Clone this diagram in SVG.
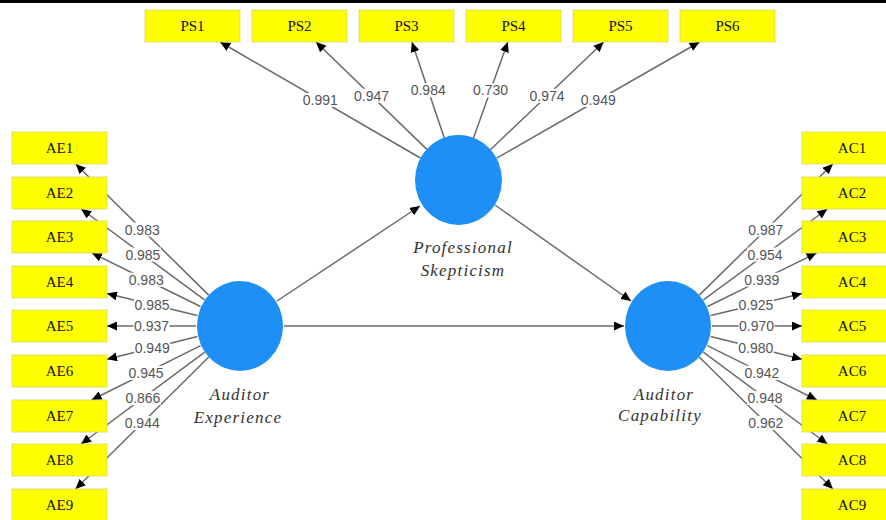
<svg xmlns="http://www.w3.org/2000/svg" width="886" height="520" viewBox="0 0 886 520">
<defs>
<marker id="arr" markerUnits="userSpaceOnUse" markerWidth="11" markerHeight="9" refX="10" refY="4.5" orient="auto">
<path d="M0,0 L10,4.5 L0,9 z" fill="#000"/>
</marker>
<style>
.box{fill:#ffff00;stroke:#d6d66a;stroke-width:0.8}
.btx{font-family:"Liberation Serif","Times New Roman",serif;font-size:15px;fill:#111;text-anchor:middle}
.lv{fill:#1e8ff5}
.lvt{font-family:"Liberation Serif","Times New Roman",serif;font-style:italic;font-size:17px;letter-spacing:1.2px;fill:#333;text-anchor:middle}
.ln{stroke:#6a6a6a;stroke-width:1.5;fill:none;marker-end:url(#arr)}
.lbg{fill:#fff}
.lab{font-family:"Liberation Sans",Arial,sans-serif;font-size:14px;fill:#555;text-anchor:middle}
</style>
</defs>
<rect x="0" y="0" width="886" height="520" fill="#fff"/>
<rect x="0" y="0" width="886" height="3" fill="#000"/>

<g id="connectors">
<!-- structural -->
<line class="ln" x1="277" y1="301" x2="420" y2="206"/>
<line class="ln" x1="495" y1="205" x2="631" y2="301"/>
<line class="ln" x1="284" y1="326" x2="624" y2="326"/>
<!-- PS indicators -->
<line class="ln" x1="420.4" y1="158" x2="220.1" y2="42"/>
<line class="ln" x1="426.9" y1="149.4" x2="316" y2="42"/>
<line class="ln" x1="444.4" y1="138.3" x2="411.9" y2="42"/>
<line class="ln" x1="473.3" y1="138.6" x2="507.8" y2="42"/>
<line class="ln" x1="490.4" y1="149.7" x2="603.7" y2="42"/>
<line class="ln" x1="496.7" y1="158.1" x2="699.6" y2="42"/>
<!-- AE indicators -->
<line class="ln" x1="208.7" y1="295.1" x2="75.7" y2="164"/>
<line class="ln" x1="204.6" y1="299.9" x2="81.2" y2="209"/>
<line class="ln" x1="200.5" y1="306.5" x2="92" y2="253"/>
<line class="ln" x1="197.3" y1="315.6" x2="107" y2="293.6"/>
<line class="ln" x1="196" y1="326" x2="107" y2="326"/>
<line class="ln" x1="197.3" y1="336.6" x2="107" y2="359.2"/>
<line class="ln" x1="200.6" y1="345.6" x2="91.6" y2="400"/>
<line class="ln" x1="204.7" y1="352.2" x2="81.1" y2="444"/>
<line class="ln" x1="208.8" y1="357" x2="75.6" y2="489"/>
<!-- AC indicators -->
<line class="ln" x1="699.3" y1="295.1" x2="832.8" y2="164"/>
<line class="ln" x1="703.4" y1="299.9" x2="827.3" y2="209"/>
<line class="ln" x1="707.5" y1="306.5" x2="816.5" y2="253"/>
<line class="ln" x1="710.7" y1="315.6" x2="802" y2="293.6"/>
<line class="ln" x1="712" y1="326" x2="802" y2="326"/>
<line class="ln" x1="710.7" y1="336.6" x2="802" y2="359.2"/>
<line class="ln" x1="707.4" y1="345.6" x2="816.9" y2="400"/>
<line class="ln" x1="703.3" y1="352.2" x2="827.4" y2="444"/>
<line class="ln" x1="699.2" y1="357" x2="832.9" y2="489"/>
<!-- labels -->
<g>
<rect class="lbg" x="302.3" y="93" width="36" height="14"/><text class="lab" x="320.3" y="105">0.991</text>
<rect class="lbg" x="353.5" y="88.7" width="36" height="14"/><text class="lab" x="371.5" y="100.7">0.947</text>
<rect class="lbg" x="410.2" y="83.2" width="36" height="14"/><text class="lab" x="428.2" y="95.2">0.984</text>
<rect class="lbg" x="472.6" y="83.3" width="36" height="14"/><text class="lab" x="490.6" y="95.3">0.730</text>
<rect class="lbg" x="529" y="88.9" width="36" height="14"/><text class="lab" x="547" y="100.9">0.974</text>
<rect class="lbg" x="580.2" y="93" width="36" height="14"/><text class="lab" x="598.2" y="105">0.949</text>

<rect class="lbg" x="124.2" y="222.6" width="36" height="14"/><text class="lab" x="142.2" y="234.6">0.983</text>
<rect class="lbg" x="124.9" y="247.5" width="36" height="14"/><text class="lab" x="142.9" y="259.5">0.985</text>
<rect class="lbg" x="128.2" y="272.7" width="36" height="14"/><text class="lab" x="146.2" y="284.7">0.983</text>
<rect class="lbg" x="134.1" y="297.6" width="36" height="14"/><text class="lab" x="152.1" y="309.6">0.985</text>
<rect class="lbg" x="133.5" y="319" width="36" height="14"/><text class="lab" x="151.5" y="331">0.937</text>
<rect class="lbg" x="134.2" y="340.9" width="36" height="14"/><text class="lab" x="152.2" y="352.9">0.949</text>
<rect class="lbg" x="128.1" y="365.8" width="36" height="14"/><text class="lab" x="146.1" y="377.8">0.945</text>
<rect class="lbg" x="124.9" y="391.1" width="36" height="14"/><text class="lab" x="142.9" y="403.1">0.866</text>
<rect class="lbg" x="124.2" y="416" width="36" height="14"/><text class="lab" x="142.2" y="428">0.944</text>

<rect class="lbg" x="747.8" y="222.6" width="36" height="14"/><text class="lab" x="765.8" y="234.6">0.987</text>
<rect class="lbg" x="747.1" y="247.5" width="36" height="14"/><text class="lab" x="765.1" y="259.5">0.954</text>
<rect class="lbg" x="743.8" y="272.7" width="36" height="14"/><text class="lab" x="761.8" y="284.7">0.939</text>
<rect class="lbg" x="737.9" y="297.6" width="36" height="14"/><text class="lab" x="755.9" y="309.6">0.925</text>
<rect class="lbg" x="738.5" y="319" width="36" height="14"/><text class="lab" x="756.5" y="331">0.970</text>
<rect class="lbg" x="737.8" y="340.9" width="36" height="14"/><text class="lab" x="755.8" y="352.9">0.980</text>
<rect class="lbg" x="743.9" y="365.8" width="36" height="14"/><text class="lab" x="761.9" y="377.8">0.942</text>
<rect class="lbg" x="747.1" y="391.1" width="36" height="14"/><text class="lab" x="765.1" y="403.1">0.948</text>
<rect class="lbg" x="747.8" y="416" width="36" height="14"/><text class="lab" x="765.8" y="428">0.962</text>
</g>
</g>

<g id="PS">
<ellipse class="lv" cx="458.5" cy="180" rx="43.5" ry="45"/>
<text class="lvt" x="463" y="253">Professional</text>
<text class="lvt" x="463" y="276">Skepticism</text>
</g>
<g id="AE">
<ellipse class="lv" cx="240" cy="326" rx="43" ry="45"/>
<text class="lvt" x="240" y="400">Auditor</text>
<text class="lvt" x="238" y="423">Experience</text>
</g>
<g id="AC">
<ellipse class="lv" cx="668" cy="326" rx="43" ry="45"/>
<text class="lvt" x="664" y="400">Auditor</text>
<text class="lvt" x="660" y="421">Capability</text>
</g>

<g id="PS1"><rect class="box" x="145" y="10" width="95" height="32"/><text class="btx" x="192.5" y="31">PS1</text></g>
<g id="PS2"><rect class="box" x="252" y="10" width="95" height="32"/><text class="btx" x="299.5" y="31">PS2</text></g>
<g id="PS3"><rect class="box" x="359" y="10" width="95" height="32"/><text class="btx" x="406.5" y="31">PS3</text></g>
<g id="PS4"><rect class="box" x="466" y="10" width="95" height="32"/><text class="btx" x="513.5" y="31">PS4</text></g>
<g id="PS5"><rect class="box" x="573" y="10" width="95" height="32"/><text class="btx" x="620.5" y="31">PS5</text></g>
<g id="PS6"><rect class="box" x="680" y="10" width="95" height="32"/><text class="btx" x="727.5" y="31">PS6</text></g>

<g id="AE1"><rect class="box" x="12" y="132" width="95" height="32"/><text class="btx" x="59.5" y="153">AE1</text></g>
<g id="AE2"><rect class="box" x="12" y="177" width="95" height="32"/><text class="btx" x="59.5" y="198">AE2</text></g>
<g id="AE3"><rect class="box" x="12" y="221" width="95" height="32"/><text class="btx" x="59.5" y="242">AE3</text></g>
<g id="AE4"><rect class="box" x="12" y="266" width="95" height="32"/><text class="btx" x="59.5" y="287">AE4</text></g>
<g id="AE5"><rect class="box" x="12" y="310" width="95" height="32"/><text class="btx" x="59.5" y="331">AE5</text></g>
<g id="AE6"><rect class="box" x="12" y="355" width="95" height="32"/><text class="btx" x="59.5" y="376">AE6</text></g>
<g id="AE7"><rect class="box" x="12" y="400" width="95" height="32"/><text class="btx" x="59.5" y="421">AE7</text></g>
<g id="AE8"><rect class="box" x="12" y="444" width="95" height="32"/><text class="btx" x="59.5" y="465">AE8</text></g>
<g id="AE9"><rect class="box" x="12" y="489" width="95" height="32"/><text class="btx" x="59.5" y="510">AE9</text></g>

<g id="AC1"><rect class="box" x="802" y="132" width="95" height="32"/><text class="btx" x="852" y="153">AC1</text></g>
<g id="AC2"><rect class="box" x="802" y="177" width="95" height="32"/><text class="btx" x="852" y="198">AC2</text></g>
<g id="AC3"><rect class="box" x="802" y="221" width="95" height="32"/><text class="btx" x="852" y="242">AC3</text></g>
<g id="AC4"><rect class="box" x="802" y="266" width="95" height="32"/><text class="btx" x="852" y="287">AC4</text></g>
<g id="AC5"><rect class="box" x="802" y="310" width="95" height="32"/><text class="btx" x="852" y="331">AC5</text></g>
<g id="AC6"><rect class="box" x="802" y="355" width="95" height="32"/><text class="btx" x="852" y="376">AC6</text></g>
<g id="AC7"><rect class="box" x="802" y="400" width="95" height="32"/><text class="btx" x="852" y="421">AC7</text></g>
<g id="AC8"><rect class="box" x="802" y="444" width="95" height="32"/><text class="btx" x="852" y="465">AC8</text></g>
<g id="AC9"><rect class="box" x="802" y="489" width="95" height="32"/><text class="btx" x="852" y="510">AC9</text></g>
</svg>
